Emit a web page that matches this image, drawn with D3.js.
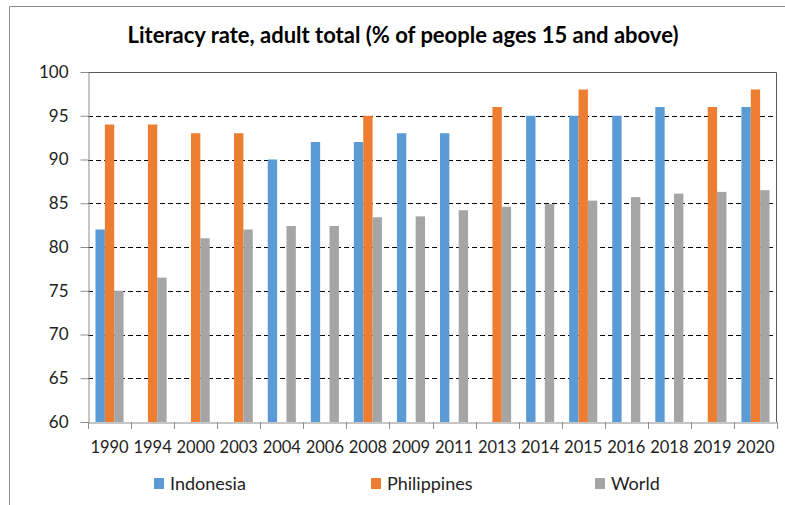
<!DOCTYPE html>
<html><head><meta charset="utf-8">
<script src="https://cdn.jsdelivr.net/npm/d3@7"></script>
<style>body{margin:0;background:#fff}svg{display:block}text{font-family:Lato,"Open Sans",sans-serif}</style>
</head><body><svg id="c" width="785" height="505"></svg>
<script>
const years = ["1990","1994","2000","2003","2004","2006","2008","2009","2011","2013","2014","2015","2016","2018","2019","2020"];
const indonesia = [82,null,null,null,90,92,92,93,93,null,95,95,95,96,null,96];
const philippines = [94,94,93,93,null,null,95,null,null,96,null,98,null,null,96,98];
const world = [75,76.5,81,82,82.4,82.4,83.4,83.5,84.2,84.6,84.9,85.3,85.7,86.1,86.3,86.5];
const seriesNames = ["Indonesia","Philippines","World"];
const seriesColors = ["#5B9BD5","#ED7D31","#A5A5A5"];
const yTicks = [60,65,70,75,80,85,90,95,100];
const title = "Literacy rate, adult total (% of people ages 15 and above)";

const svg = d3.select("#c");
const L = 88, R = 777, T = 72, B = 422;

// outer frame
svg.append("path").attr("d","M9.5,505 V6.5 H785").attr("fill","none").attr("stroke","#8c8c8c").attr("stroke-width",1);

svg.append("text").attr("x",403).attr("y",43).attr("text-anchor","middle")
  .attr("font-size",22).attr("font-weight","bold").attr("fill","#000").text(title);

const x = d3.scaleBand().domain(years).range([L,R]).paddingInner(0).paddingOuter(0);
const x1 = d3.scaleBand().domain(seriesNames).range([0,x.bandwidth()]).paddingInner(0).paddingOuter(0.8);
const y = d3.scaleLinear().domain([60,100]).range([B,T]);

// gridlines
svg.append("g").selectAll("line").data(yTicks.filter(v=>v>60&&v<100)).join("line")
  .attr("x1",L).attr("x2",R).attr("y1",d=>Math.round(y(d))+0.5).attr("y2",d=>Math.round(y(d))+0.5)
  .attr("stroke","#000").attr("stroke-dasharray","5,3").attr("stroke-width",1);

// bars
const all = [indonesia, philippines, world];
const g = svg.append("g");
all.forEach((vals,si)=>{
  g.selectAll(null).data(years.map((yr,i)=>({yr,v:vals[i]})).filter(d=>d.v!=null)).join("rect")
    .attr("x",d=>x(d.yr)+x1(seriesNames[si]))
    .attr("width",x1.bandwidth())
    .attr("y",d=>y(d.v)).attr("height",d=>y(60)-y(d.v))
    .attr("fill",seriesColors[si]);
});

// plot border top/right
svg.append("path").attr("d",`M${L},${T+0.5} H${R-0.5} V${B}`).attr("fill","none").attr("stroke","#595959").attr("stroke-width",1);

// y axis
const ya = svg.append("g").attr("transform",`translate(${L+0.5},0)`)
  .call(d3.axisLeft(y).tickValues(yTicks).tickSize(8).tickPadding(12).tickSizeOuter(0));
ya.select(".domain").attr("stroke","#8c8c8c");
ya.selectAll(".tick line").attr("stroke","#8c8c8c");
ya.selectAll(".tick text").attr("font-size",17).attr("fill","#222").attr("font-family","Lato");

// x axis
const xa = svg.append("g").attr("transform",`translate(0,${B+0.5})`)
  .call(d3.axisBottom(x).tickSize(0).tickPadding(19).tickSizeOuter(0));
xa.select(".domain").attr("stroke","#8c8c8c");
xa.selectAll(".tick text").attr("font-size",16.5).attr("fill","#222").attr("font-family","Lato");
// category separator ticks
svg.append("g").selectAll("line").data(d3.range(years.length+1)).join("line")
  .attr("x1",i=>Math.round(L+i*x.step())+0.5).attr("x2",i=>Math.round(L+i*x.step())+0.5)
  .attr("y1",B).attr("y2",B+7).attr("stroke","#8c8c8c");

// legend
const legX = [154,371,595];
const lg = svg.append("g");
seriesNames.forEach((n,i)=>{
  lg.append("rect").attr("x",legX[i]).attr("y",478).attr("width",10).attr("height",11).attr("fill",seriesColors[i]);
  lg.append("text").attr("x",legX[i]+16).attr("y",490).attr("font-size",18).attr("fill","#222").text(n);
});
</script></body></html>
